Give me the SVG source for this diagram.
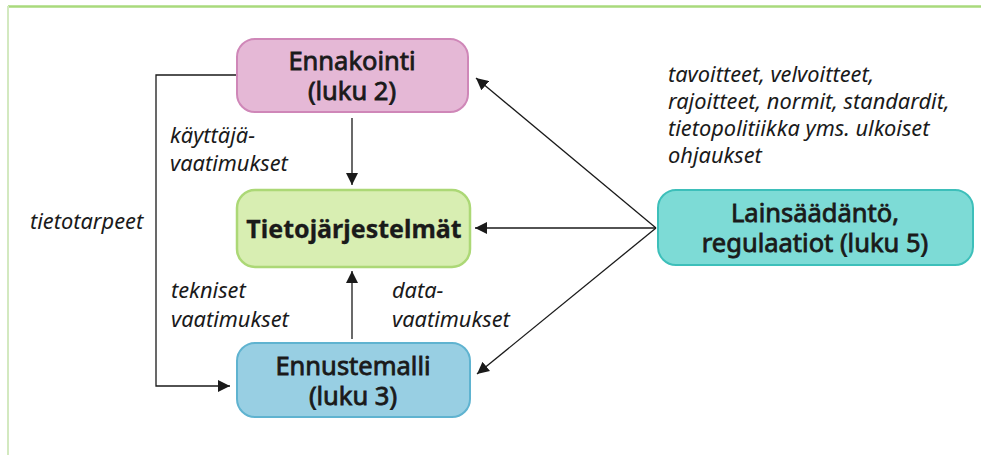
<svg xmlns="http://www.w3.org/2000/svg" width="981" height="455" viewBox="0 0 981 455">
<style>
.t{font-family:"Noto Sans","Open Sans",sans-serif;font-size:25.5px;font-weight:400;fill:#1a1a1a;stroke:#1a1a1a;stroke-width:0.8;text-anchor:middle}
.b{font-weight:700;font-size:25px;stroke-width:0.3}
.l{font-family:"Noto Sans","Open Sans",sans-serif;font-size:21.8px;font-style:italic;fill:#1a1a1a}
.c{fill:none;stroke:#1a1a1a;stroke-width:1.3}
</style>
<defs>
<marker id="ah" viewBox="0 0 10 10" refX="10" refY="5" markerWidth="12" markerHeight="12" markerUnits="userSpaceOnUse" orient="auto">
<path d="M0,0 L10,5 L0,10 Z" fill="#1a1a1a"/>
</marker>
</defs>
<rect width="981" height="455" fill="#fff"/>
<g id="frame">
<line x1="8" y1="6.5" x2="981" y2="6.5" stroke="#a9da7c" stroke-width="2.5"/>
<line x1="8" y1="6" x2="8" y2="455" stroke="#d3e9c0" stroke-width="2"/>
</g>
<g id="connectors">
<line class="c" x1="352" y1="118" x2="352" y2="185" marker-end="url(#ah)"/>
<line class="c" x1="352" y1="339" x2="352" y2="271" marker-end="url(#ah)"/>
<polyline class="c" points="236,75 156,75 156,386 230,386" marker-end="url(#ah)"/>
<line class="c" x1="656" y1="228" x2="475" y2="228" marker-end="url(#ah)"/>
<line class="c" x1="656" y1="228" x2="476" y2="78" marker-end="url(#ah)"/>
<line class="c" x1="656" y1="228" x2="477" y2="374" marker-end="url(#ah)"/>
</g>
<g id="ennakointi">
<rect x="237" y="39" width="231" height="73" rx="18" fill="#e5b8d6" stroke="#cf87b8" stroke-width="2"/>
<text class="t" x="352" y="70">Ennakointi</text>
<text class="t" x="352" y="100">(luku 2)</text>
</g>
<g id="tietojarjestelmat">
<rect x="237" y="190" width="233" height="77" rx="18" fill="#d8eeb2" stroke="#acd876" stroke-width="2.5"/>
<text class="t b" x="354" y="238">Tietojärjestelmät</text>
</g>
<g id="ennustemalli">
<rect x="237" y="343" width="233" height="74" rx="18" fill="#98cfe3" stroke="#5fb3d0" stroke-width="2"/>
<text class="t" x="353" y="375">Ennustemalli</text>
<text class="t" x="353" y="405">(luku 3)</text>
</g>
<g id="lainsaadanto">
<rect x="658" y="190" width="315" height="75" rx="18" fill="#7ddbd6" stroke="#3dbfba" stroke-width="2"/>
<text class="t" x="815" y="222">Lainsäädäntö,</text>
<text class="t" x="815" y="252">regulaatiot (luku 5)</text>
</g>
<g id="labels">
<text class="l" x="170" y="143">käyttäjä-</text>
<text class="l" x="170" y="171">vaatimukset</text>
<text class="l" x="30" y="229">tietotarpeet</text>
<text class="l" x="171" y="298">tekniset</text>
<text class="l" x="171" y="327">vaatimukset</text>
<text class="l" x="392" y="298">data-</text>
<text class="l" x="392" y="327">vaatimukset</text>
<text class="l" x="668" y="82">tavoitteet, velvoitteet,</text>
<text class="l" x="668" y="109">rajoitteet, normit, standardit,</text>
<text class="l" x="668" y="136">tietopolitiikka yms. ulkoiset</text>
<text class="l" x="668" y="163">ohjaukset</text>
</g>
</svg>
